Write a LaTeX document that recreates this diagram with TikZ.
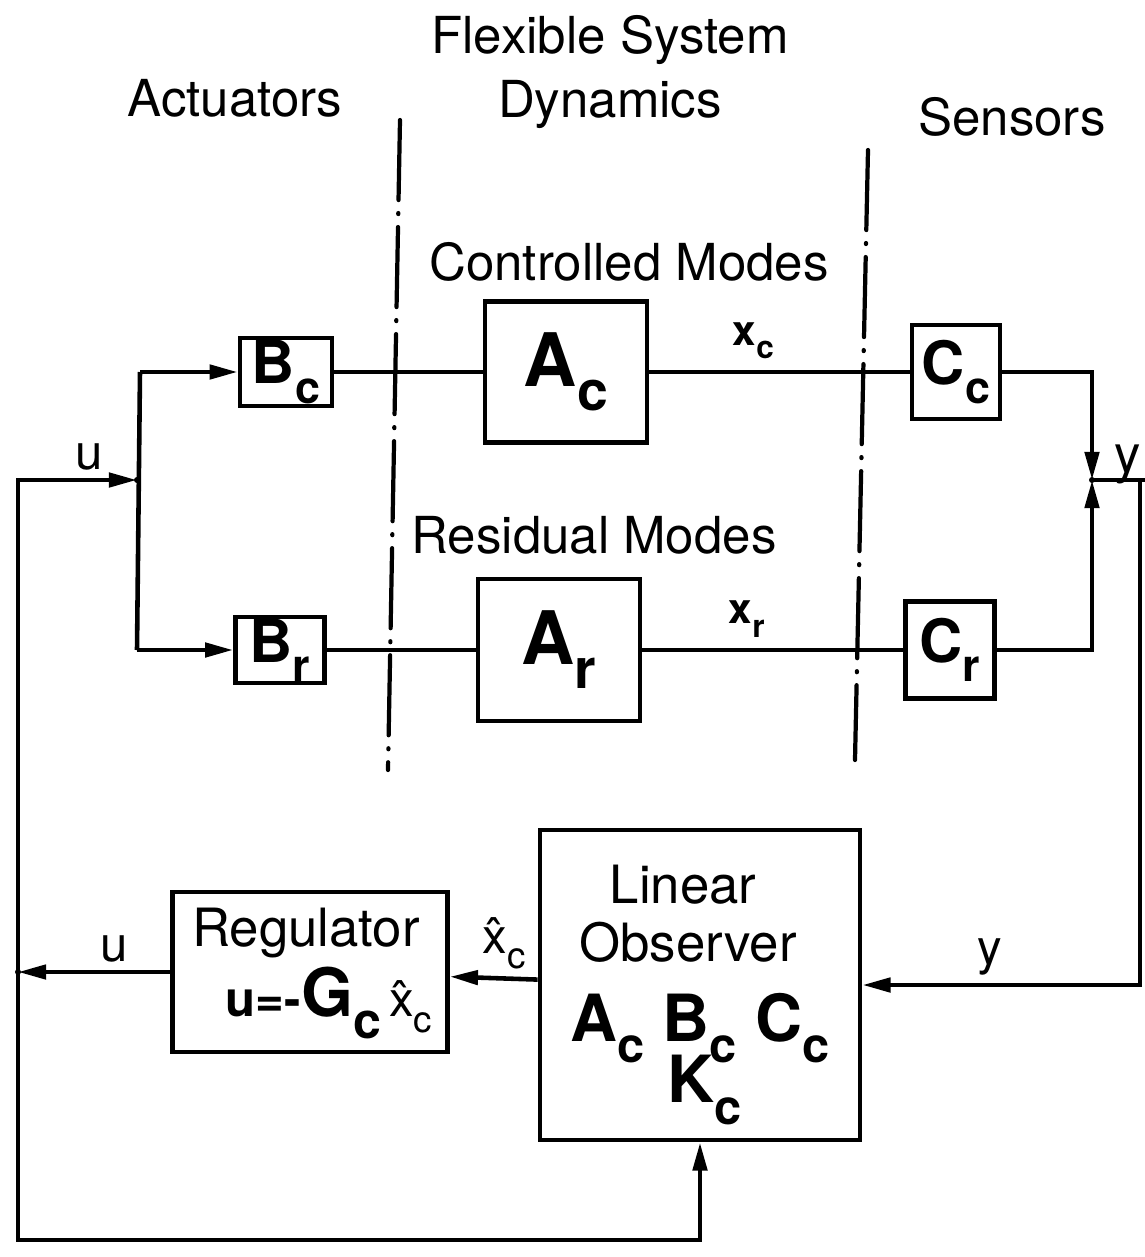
\documentclass[tikz,border=0pt]{standalone}
\usepackage{fontspec}
\setmainfont{TeX Gyre Heros}
\usepackage{graphicx}
\usetikzlibrary{arrows.meta, positioning, calc}
\newcommand{\lowsub}[2]{#1\raisebox{-0.6ex}{\scalebox{0.75}{#2}}}
\tikzset{
  blk/.style={draw, line width=1.3pt, inner sep=0pt},
  sig/.style={line width=1.3pt},
  arr/.style={sig, -{Triangle[length=8pt,width=4pt]}},
  sep/.style={line width=1.2pt, line cap=round, dash pattern=on 0.8cm off 0.13cm on 0.01cm off 0.13cm},
  ttl/.style={font=\fontsize{14.5}{18}\selectfont, align=center},
  lbl/.style={font=\fontsize{14}{16}\selectfont, inner sep=1pt},
  sml/.style={font=\fontsize{12}{14}\selectfont\bfseries, inner sep=1pt},
}

\begin{document}
\begin{tikzpicture}[x=0.01cm, y=-0.01cm]
  \useasboundingbox (0,0) rectangle (1145,1257);
  % Headings
  \node[ttl] (tact) at (235,98) {Actuators};
  \node[ttl] (tflex) at (610,72) {Flexible System\\Dynamics};
  \node[ttl] (tsens) at (1012,117) {Sensors};
  \node[ttl] (tctrl) at (629,262) {Controlled Modes};
  \node[ttl] (tres) at (594,535) {Residual Modes};
  % Dash-dot separators
  \draw[sep] (400,120) -- (388,770);
  \draw[sep] (868,150) -- (855,760);
  % Plant blocks
  \node[blk, minimum width=0.92cm, minimum height=0.68cm, font=\fontsize{17}{17}\selectfont\bfseries] (bc) at (286,372) {\lowsub{B}{c}};
  \node[blk, minimum width=1.62cm, minimum height=1.41cm, font=\fontsize{21}{21}\selectfont\bfseries] (ac) at (566,372) {\lowsub{A}{c}};
  \node[blk, minimum width=0.88cm, minimum height=0.94cm, font=\fontsize{17}{17}\selectfont\bfseries] (cc) at (956,372) {\lowsub{C}{c}};
  \node[blk, minimum width=0.89cm, minimum height=0.66cm, font=\fontsize{17}{17}\selectfont\bfseries] (br) at (280,650) {\lowsub{B}{r}};
  \node[blk, minimum width=1.62cm, minimum height=1.42cm, font=\fontsize{21}{21}\selectfont\bfseries] (ar) at (559,650) {\lowsub{A}{r}};
  \node[blk, minimum width=0.89cm, minimum height=0.97cm, font=\fontsize{17}{17}\selectfont\bfseries] (cr) at (950,650) {\lowsub{C}{r}};
  % Controller blocks
  \node[blk, minimum width=2.75cm, minimum height=1.60cm] (reg) at (310,972) {};
  \node[lbl, font=\fontsize{15}{17}\selectfont] (regt) at (306,933) {Regulator};
  \node[lbl] (regl) at (329,1003) {\textbf{u=-}{\fontsize{19}{19}\selectfont\bfseries\lowsub{G}{c}}\,\lowsub{\^{x}}{c}};
  \node[blk, minimum width=3.20cm, minimum height=3.10cm] (obs) at (700,985) {};
  \node[lbl, font=\fontsize{15}{17}\selectfont] (obs1) at (683,885) {Linear};
  \node[lbl, font=\fontsize{15}{17}\selectfont] (obs2) at (688,942) {Observer};
  \node[font=\fontsize{18.5}{19}\selectfont\bfseries] (obs3) at (700,1028) {\lowsub{A}{c} \lowsub{B}{c} \lowsub{C}{c}};
  \node[font=\fontsize{18.5}{19}\selectfont\bfseries] (obs4) at (705,1090) {\lowsub{K}{c}};
  % Junctions
  \coordinate (uj) at (137,480);
  \coordinate (ut) at (140,372);
  \coordinate (ub) at (137,650);
  \coordinate (lj) at (18,972);
  \coordinate (lc) at (18,1240);
  \coordinate (yj) at (1092,480);
  \coordinate (yo) at (1145,480);
  \coordinate (yc) at (1140,480);
  % Plant connections
  \draw[sig] (ut) -- (ub);
  \draw[arr] (ut) -- (bc);
  \draw[arr] (ub) -- (br);
  \draw[sig] (bc) -- (ac);
  \draw[sig] (br) -- (ar);
  \draw[sig] (ac) -- node[pos=0.4, above=2pt, sml] (xc) {\lowsub{x}{c}} (cc);
  \draw[sig] (ar) -- node[pos=0.4, above=2pt, sml] (xr) {\lowsub{x}{r}} (cr);
  \draw[arr] (cc) -| (yj);
  \draw[arr] (cr) -| (yj);
  \draw[sig] (yj) -- (yo);
  \node[lbl, font=\fontsize{15}{17}\selectfont] (ylab) at (1128,464) {y};
  % Feedback loop
  \draw[arr] (yc) |- node[pos=0.77, above=1pt, lbl] (ylab2) {y} (obs);
  \draw[arr] (obs) -- node[pos=0.38, above=1pt, lbl] (xhat) {\lowsub{\^{x}}{c}} (reg);
  \draw[arr] (reg) -- node[pos=0.37, above=1pt, lbl] (ulab2) {u} (lj);
  \draw[arr] (lj) |- node[pos=0.8, above=1pt, lbl] (ulab) {u} (uj);
  \draw[arr] (lj) -- (lc) -| (obs);
  \fill (uj) circle (3);
  \fill (lj) circle (3);
  \fill (yj) circle (3);
\end{tikzpicture}
\end{document}
